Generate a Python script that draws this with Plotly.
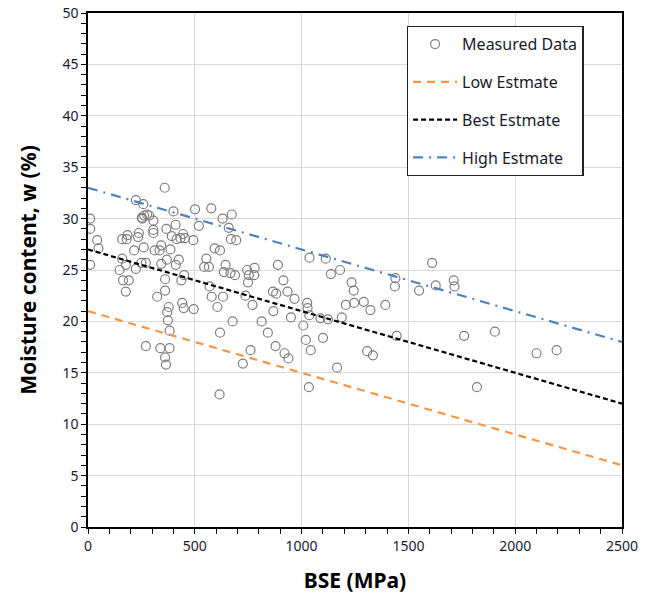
import plotly.graph_objects as go

bse = [10, 10, 10, 43, 49, 148, 160, 160, 164, 177, 177, 181, 185, 191, 216, 224, 224, 234, 238,
       250, 252, 254, 259, 261, 263, 271, 271, 277, 287, 306, 306, 306, 312, 324, 335, 339, 343,
       343, 359, 361, 361, 361, 365, 367, 369, 371, 374, 378, 382, 382, 386, 392, 400, 410, 411,
       415, 425, 433, 437, 441, 448, 445, 450, 454, 493, 495, 501, 519, 544, 554, 566, 569, 577,
       579, 593, 606, 616, 618, 618, 630, 632, 636, 644, 659, 667, 669, 673, 677, 688, 694, 725,
       737, 745, 749, 753, 761, 770, 778, 780, 813, 842, 866, 868, 878, 881, 889, 915, 920, 934,
       938, 950, 967, 1008, 1020, 1026, 1028, 1034, 1037, 1036, 1043, 1088, 1100, 1113, 1123,
       1137, 1166, 1180, 1188, 1207, 1234, 1244, 1246, 1291, 1307, 1322, 1334, 1392, 1439, 1437,
       1445, 1550, 1611, 1628, 1712, 1716, 1761, 1821, 1905, 2100, 2194]
moisture = [30.0, 29.0, 25.5, 27.9, 27.1, 25.0, 26.1, 28.0, 24.0, 22.9, 25.5, 28.0, 28.4, 24.0, 26.9,
            31.8, 25.1, 28.2, 28.6, 25.7, 30.1, 30.0, 31.4, 27.2, 30.3, 25.7, 17.6, 30.4, 30.3,
            29.8, 28.9, 28.6, 26.9, 22.4, 26.9, 17.4, 27.4, 25.6, 33.0, 23.0, 24.1, 16.5, 15.8,
            29.0, 26.0, 20.9, 20.1, 21.4, 19.1, 17.4, 27.0, 28.3, 30.7, 29.4, 25.5, 28.0, 26.0,
            28.1, 24.0, 21.8, 21.3, 28.5, 24.5, 28.1, 27.9, 21.2, 30.9, 29.3, 25.3, 26.1, 25.3,
            23.4, 31.0, 22.4, 27.1, 21.4, 12.9, 26.9, 18.9, 30.0, 22.4, 24.8, 25.5, 29.1, 24.7,
            28.0, 30.4, 20.0, 24.5, 27.9, 15.9, 22.5, 25.0, 23.8, 24.5, 17.2, 21.6, 24.5, 25.2,
            20.0, 18.9, 22.9, 21.0, 17.6, 22.7, 25.5, 24.0, 16.9, 22.9, 16.4, 20.4, 22.2, 19.6,
            18.2, 21.8, 21.3, 13.6, 26.2, 20.6, 17.2, 20.3, 18.4, 26.1, 20.2, 24.6, 15.5, 25.0,
            20.4, 21.6, 23.8, 23.0, 21.8, 21.9, 17.1, 21.1, 16.7, 21.6, 24.2, 23.4, 18.6, 23.0,
            25.7, 23.5, 24.0, 23.4, 18.6, 13.6, 19.0, 16.9, 17.2]

line_x = [0, 2500]
low_est = [21, 6]
best_est = [27, 12]
high_est = [33, 18]

x_ticks = [0, 500, 1000, 1500, 2000, 2500]
y_ticks = [0, 5, 10, 15, 20, 25, 30, 35, 40, 45, 50]

font_family = "Noto Sans, Open Sans, sans-serif"
text_color = "#1a1a2e"

fig = go.Figure()
fig.add_trace(go.Scatter(
    x=bse, y=moisture, mode="markers", name="Measured Data", legendgroup="a",
    marker=dict(symbol="circle-open", size=9, color="#7f7f7f", line=dict(width=1.2, color="#7f7f7f"))))
fig.add_trace(go.Scatter(
    x=line_x, y=low_est, mode="lines", name="Low Estmate", legendgroup="b",
    line=dict(color="#F79646", width=2.2, dash="8px,6px")))
fig.add_trace(go.Scatter(
    x=line_x, y=best_est, mode="lines", name="Best Estmate", legendgroup="c",
    line=dict(color="#000000", width=2.2, dash="5px,3px")))
fig.add_trace(go.Scatter(
    x=line_x, y=high_est, mode="lines", name="High Estmate", legendgroup="d",
    line=dict(color="#4F81BD", width=2.2, dash="10px,6px,2px,6px")))

fig.update_layout(
    width=654, height=601,
    margin=dict(l=88, r=32, t=13, b=74, autoexpand=False),
    paper_bgcolor="white", plot_bgcolor="white",
    font=dict(family=font_family, color=text_color, size=14),
    legend=dict(
        x=0.597, y=0.975, xanchor="left", yanchor="top",
        bgcolor="white", bordercolor="#222222", borderwidth=1.3,
        font=dict(size=16, color=text_color),
        tracegroupgap=14, itemwidth=44,
    ),
    xaxis=dict(
        range=[0, 2500], tickvals=x_ticks, ticktext=[str(v) for v in x_ticks],
        showgrid=True, gridcolor="#d9d9d9", gridwidth=1,
        showline=True, linecolor="black", linewidth=1.5, mirror=True,
        ticks="outside", ticklen=5, tickcolor="black",
        minor=dict(dtick=100, ticks="outside", ticklen=5, tickcolor="black", showgrid=False),
        zeroline=False, automargin=False, ticklabeloverflow="allow",
        tickfont=dict(size=14, color=text_color),
        title=dict(text="<b>BSE (MPa)</b>", font=dict(size=21, color="black"), standoff=20),
    ),
    yaxis=dict(
        range=[0, 50], tickvals=y_ticks, ticktext=[str(v) for v in y_ticks],
        showgrid=True, gridcolor="#d9d9d9", gridwidth=1,
        showline=True, linecolor="black", linewidth=1.5, mirror=True,
        ticks="outside", ticklen=5, tickcolor="black",
        minor=dict(dtick=1, ticks="outside", ticklen=5, tickcolor="black", showgrid=False),
        zeroline=False, automargin=False, ticklabeloverflow="allow",
        tickfont=dict(size=14, color=text_color),
        title=dict(text="<b>Moisture content, w (%)</b>", font=dict(size=21, color="black"), standoff=20),
    ),
)

fig.write_html("out.html", config={"displayModeBar": False},
               post_script="document.body.style.margin='0';")
